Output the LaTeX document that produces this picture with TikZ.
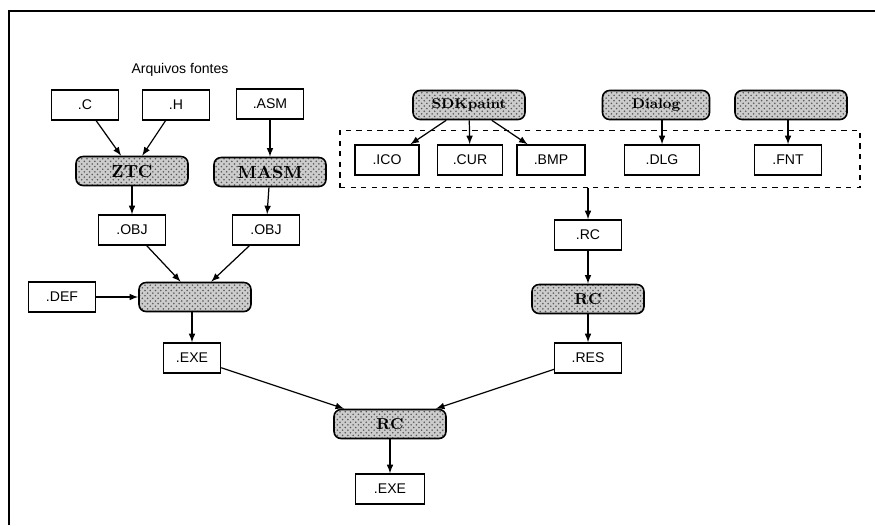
\documentclass[tikz,border=0pt]{standalone}
\usepackage{fontspec}
\setsansfont{Liberation Sans}
\usepackage{tikz}
\usetikzlibrary{patterns}

\begin{document}
\begin{tikzpicture}[>=latex, x=0.02cm, y=-0.02cm,
    file/.style={draw, line width=0.8pt, minimum width=1.33cm, minimum height=0.6cm, font=\sffamily\footnotesize},
    tool/.style={draw, line width=0.9pt, rounded corners=4pt, minimum width=2.24cm, minimum height=0.58cm,
        preaction={fill=gray!40}, pattern=crosshatch dots, pattern color=black!65, font=\bfseries},
    flow/.style={->, line width=0.7pt}]
            \useasboundingbox (0,0) rectangle (875,525);

            % Frame at top and left
            \draw[line width=1pt] (9,525) -- (9,11) -- (875,11);

            % Title of the source files
            \node[font=\sffamily\footnotesize] (Title) at (180,70) {Arquivos fontes};

            % Source files
            \node[file] (Src-C) at (85,105) {.C};
            \node[file] (Src-H) at (176,105) {.H};
            \node[file] (Src-ASM) at (270,104) {.ASM};

            % Compilers
            \node[tool] (Comp-ZTC) at (132,171) {ZTC};
            \node[tool] (Comp-MASM) at (270,172) {MASM};

            % Object files
            \node[file] (Obj-1) at (132,230) {.OBJ};
            \node[file] (Obj-2) at (266,230) {.OBJ};

            % Linker and definition file
            \node[file] (Def) at (62,297) {.DEF};
            \node[tool] (Link) at (195,297) {};
            \node[file, minimum width=1.14cm] (Exe-1) at (192,358) {.EXE};

            % Resource editors
            \node[tool, font=\bfseries\footnotesize] (Ed-SDK) at (469,105) {SDKpaint};
            \node[tool, font=\bfseries\footnotesize, minimum width=2.14cm] (Ed-Dlg) at (656,105) {Dialog};
            \node[tool] (Ed-Fnt) at (791,105) {};

            % Resource files inside the dashed group
            \node[draw, dashed, line width=0.7pt, minimum width=10.4cm, minimum height=1.14cm] (Res-Box) at (600,159) {};
            \node[file, minimum width=1.28cm] (Res-ICO) at (387,160) {.ICO};
            \node[file, minimum width=1.3cm] (Res-CUR) at (470,160) {.CUR};
            \node[file, minimum width=1.36cm] (Res-BMP) at (551,160) {.BMP};
            \node[file, minimum width=1.5cm] (Res-DLG) at (662,160) {.DLG};
            \node[file] (Res-FNT) at (788,160) {.FNT};

            % Resource compiler chain
            \node[file] (Rc-Src) at (588,235) {.RC};
            \node[tool, font=\bfseries\small] (Rc-1) at (588,299) {RC};
            \node[file] (Res-Out) at (588,358) {.RES};
            \node[tool, font=\bfseries\small] (Rc-2) at (390,424) {RC};
            \node[file, minimum width=1.38cm] (Exe-2) at (390,489) {.EXE};

            % Connections on the left side
            \foreach \s in {Src-C, Src-H}
            {
                \draw[flow] (\s) -- (Comp-ZTC);
            }
            \draw[flow] (Src-ASM) -- (Comp-MASM);
            \draw[flow] (Comp-ZTC) -- (Obj-1);
            \draw[flow] (Comp-MASM) -- (Obj-2);
            \foreach \i in {1,...,2}
            {
                \draw[flow] (Obj-\i) -- (Link);
            }
            \draw[flow] (Def) -- (Link);
            \draw[flow] (Link.south -| Exe-1) -- (Exe-1);

            % Connections on the right side
            \foreach \r in {ICO, CUR, BMP}
            {
                \draw[flow] (Ed-SDK) -- (Res-\r);
            }
            \draw[flow] (Ed-Dlg.south -| Res-DLG) -- (Res-DLG);
            \draw[flow] (Ed-Fnt.south -| Res-FNT) -- (Res-FNT);
            \draw[flow] (Res-Box.south -| Rc-Src) -- (Rc-Src);
            \draw[flow] (Rc-Src) -- (Rc-1);
            \draw[flow] (Rc-1) -- (Res-Out);

            % Final resource binding
            \draw[flow] (Exe-1) -- (Rc-2);
            \draw[flow] (Res-Out) -- (Rc-2);
            \draw[flow] (Rc-2) -- (Exe-2);

        \end{tikzpicture}
\end{document}
